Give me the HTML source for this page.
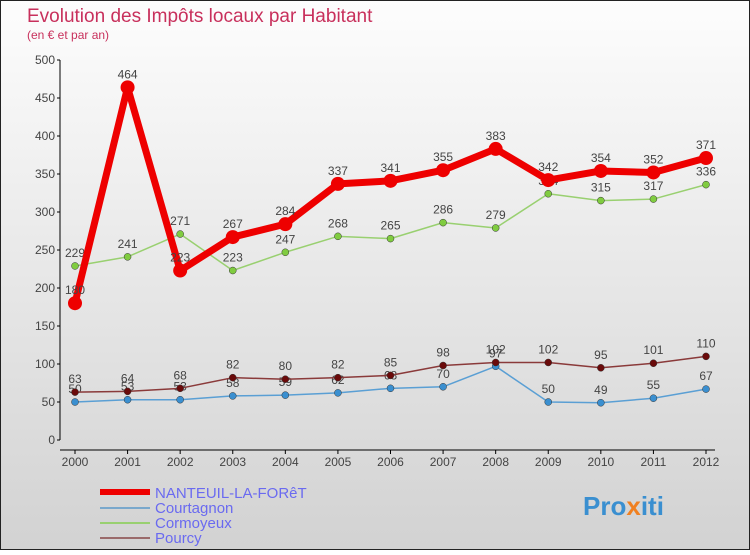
<!DOCTYPE html>
<html><head><meta charset="utf-8"><style>
body{margin:0}
#c{width:750px;height:550px;position:relative;font-family:"Liberation Sans",sans-serif}
</style></head><body>
<div id="c">
<svg id="s" width="750" height="550" xmlns="http://www.w3.org/2000/svg">
<defs><linearGradient id="bg" x1="0" y1="0" x2="0" y2="1"><stop offset="0" stop-color="#fdfdfd"/><stop offset="1" stop-color="#d2d2d2"/></linearGradient></defs>
<rect x="0.5" y="0.5" width="749" height="549" fill="url(#bg)" stroke="#222"/>
<text x="27" y="22" font-size="19" fill="#c8305c">Evolution des Impôts locaux par Habitant</text>
<text x="27" y="39" font-size="12" fill="#c8305c">(en € et par an)</text>
<g id="axes"></g><g id="series"></g>
<g>
<line x1="100" y1="492" x2="150" y2="492" stroke="#e00" stroke-width="6"/><text x="155" y="498" font-size="15" fill="#6a6af0">NANTEUIL-LA-FORêT</text>
<line x1="100" y1="508" x2="150" y2="508" stroke="#7aa8cc" stroke-width="2"/><text x="155" y="513" font-size="15" fill="#6a6af0">Courtagnon</text>
<line x1="100" y1="523" x2="150" y2="523" stroke="#99d070" stroke-width="2"/><text x="155" y="528" font-size="15" fill="#6a6af0">Cormoyeux</text>
<line x1="100" y1="538" x2="150" y2="538" stroke="#9a6a6a" stroke-width="2"/><text x="155" y="543" font-size="15" fill="#6a6af0">Pourcy</text>
</g>
<text x="583" y="515" font-size="26" font-weight="bold" fill="#3a8fd0">Pro<tspan fill="#f08020">x</tspan>iti</text>
</svg></div>
<script>
const years=[2000,2001,2002,2003,2004,2005,2006,2007,2008,2009,2010,2011,2012];
const yTicks=[0,50,100,150,200,250,300,350,400,450,500];
const nanteuil=[180,464,223,267,284,337,341,355,383,342,354,352,371];
const courtagnon=[50,53,53,58,59,62,68,70,97,50,49,55,67];
const cormoyeux=[229,241,271,223,247,268,265,286,279,324,315,317,336];
const pourcy=[63,64,68,82,80,82,85,98,102,102,95,101,110];
const NS="http://www.w3.org/2000/svg";
const x=i=>75+i*(706-75)/(years.length-1);
const y=v=>440-v*0.76;
function mk(t,a,p){const e=document.createElementNS(NS,t);for(const k in a)e.setAttribute(k,a[k]);p.appendChild(e);return e;}
const ax=document.getElementById('axes');
mk('line',{x1:60,y1:y(500),x2:60,y2:y(0),stroke:'#000'},ax);
mk('line',{x1:60,y1:450,x2:715,y2:450,stroke:'#000'},ax);
yTicks.forEach(v=>{
 mk('line',{x1:57,y1:y(v),x2:60,y2:y(v),stroke:'#000'},ax);
 const t=mk('text',{x:55,y:y(v)+4,'font-size':12,fill:'#444','text-anchor':'end'},ax);t.textContent=v;
 
 
});
years.forEach((yr,i)=>{
 mk('line',{x1:x(i),y1:450,x2:x(i),y2:454,stroke:'#000'},ax);
 const t=mk('text',{x:x(i),y:466,'font-size':12,fill:'#444','text-anchor':'middle'},ax);t.textContent=yr;
 
 
});
const sg=document.getElementById('series');
function series(name,data,col,w,r,dot){
 const g=mk('g',{},sg);
 
 
 mk('polyline',{points:data.map((v,i)=>x(i)+','+y(v)).join(' '),fill:'none',stroke:col,'stroke-width':w,'stroke-linejoin':'round'},g);
 data.forEach((v,i)=>{
  const c=mk('circle',{cx:x(i),cy:y(v),r:r,fill:dot,stroke:'#333','stroke-width':r>4?0:0.5},g);
  
  
  const t=mk('text',{x:x(i),y:y(v)-9,'font-size':12,fill:'#444','text-anchor':'middle'},g);t.textContent=v;
  
  
 });
}
series('courtagnon-line',courtagnon,'#5a9fd4',1.5,3.5,'#3a8fd0');
series('cormoyeux-line',cormoyeux,'#99d070',1.5,3.5,'#80cc40');
series('pourcy-line',pourcy,'#8a3a3a',1.5,3.5,'#6a0a0a');
series('nanteuil-line',nanteuil,'#ee0000',7,7,'#ee0000');
</script>
</body></html>
